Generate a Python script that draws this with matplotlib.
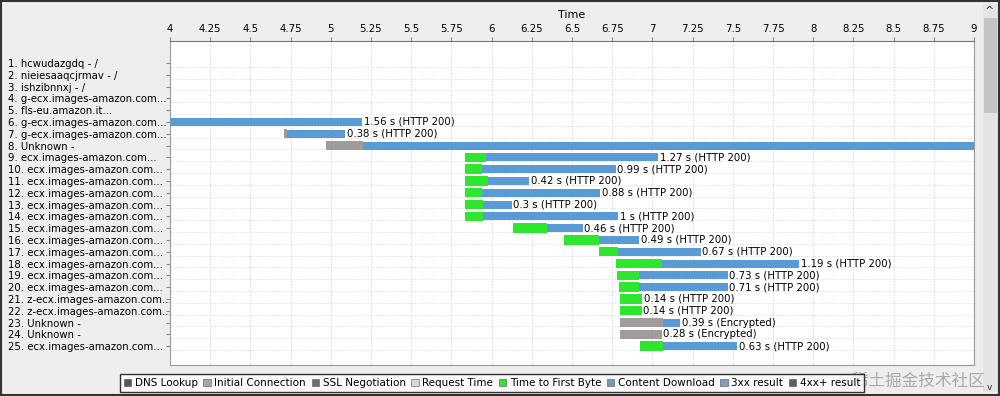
import numpy as np
import matplotlib
matplotlib.use("Agg")
import matplotlib.pyplot as plt
from matplotlib.patches import Patch, Rectangle

plt.rcParams['font.family'] = ['DejaVu Sans', 'Noto Sans CJK SC']

# ---------------- data ----------------
row_labels = [
    "1. hcwudazgdq - /", "2. nieiesaaqcjrmav - /", "3. ishzibnnxj - /",
    "4. g-ecx.images-amazon.com...", "5. fls-eu.amazon.it...",
    "6. g-ecx.images-amazon.com...", "7. g-ecx.images-amazon.com...",
    "8. Unknown -", "9. ecx.images-amazon.com...",
    "10. ecx.images-amazon.com...", "11. ecx.images-amazon.com...",
    "12. ecx.images-amazon.com...", "13. ecx.images-amazon.com...",
    "14. ecx.images-amazon.com...", "15. ecx.images-amazon.com...",
    "16. ecx.images-amazon.com...", "17. ecx.images-amazon.com...",
    "18. ecx.images-amazon.com...", "19. ecx.images-amazon.com...",
    "20. ecx.images-amazon.com...", "21. z-ecx.images-amazon.com...",
    "22. z-ecx.images-amazon.com...", "23. Unknown -", "24. Unknown -",
    "25. ecx.images-amazon.com...",
]
nan = np.nan
# initial connection (grey)
conn_start = [nan, nan, nan, nan, nan, nan, 4.71, 4.97, nan, nan, nan, nan, nan,
              nan, nan, nan, nan, nan, nan, nan, nan, nan, 6.798, 6.798, nan]
conn_end = [nan, nan, nan, nan, nan, nan, 4.73, 5.20, nan, nan, nan, nan, nan,
            nan, nan, nan, nan, nan, nan, nan, nan, nan, 7.068, 7.058, nan]
# time to first byte (green)
ttfb_start = [nan, nan, nan, nan, nan, nan, nan, nan, 5.834, 5.834, 5.834, 5.834,
              5.834, 5.834, 6.131, 6.45, 6.668, 6.773, 6.782, 6.794, 6.798,
              6.798, nan, nan, 6.923]
ttfb_end = [nan, nan, nan, nan, nan, nan, nan, nan, 5.965, 5.938, 5.975, 5.941,
            5.948, 5.948, 6.342, 6.668, 6.788, 7.062, 6.918, 6.918, 6.937,
            6.933, nan, nan, 7.068]
# content download (blue)
dl_start = [nan, nan, nan, nan, nan, 3.64, 4.73, 5.20, 5.965, 5.938, 5.975, 5.941,
            5.948, 5.948, 6.342, 6.668, 6.788, 7.062, 6.918, 6.918, nan, nan,
            7.068, nan, 7.068]
dl_end = [nan, nan, nan, nan, nan, 5.197, 5.088, 9.40, 7.037, 6.772, 6.234, 6.674,
          6.124, 6.788, 6.566, 6.917, 7.30, 7.912, 7.469, 7.469, nan, nan,
          7.172, nan, 7.528]
bar_texts = ["", "", "", "", "", "1.56 s (HTTP 200)", "0.38 s (HTTP 200)", "",
             "1.27 s (HTTP 200)", "0.99 s (HTTP 200)", "0.42 s (HTTP 200)",
             "0.88 s (HTTP 200)", "0.3 s (HTTP 200)", "1 s (HTTP 200)",
             "0.46 s (HTTP 200)", "0.49 s (HTTP 200)", "0.67 s (HTTP 200)",
             "1.19 s (HTTP 200)", "0.73 s (HTTP 200)", "0.71 s (HTTP 200)",
             "0.14 s (HTTP 200)", "0.14 s (HTTP 200)", "0.39 s (Encrypted)",
             "0.28 s (Encrypted)", "0.63 s (HTTP 200)"]
x_ticks = [4, 4.25, 4.5, 4.75, 5, 5.25, 5.5, 5.75, 6, 6.25, 6.5, 6.75, 7,
           7.25, 7.5, 7.75, 8, 8.25, 8.5, 8.75, 9]
legend_names = ["DNS Lookup", "Initial Connection", "SSL Negotiation",
                "Request Time", "Time to First Byte", "Content Download",
                "3xx result", "4xx+ result"]

# ---------------- styles ----------------
C_BLUE = "#5b9bd5"
C_GREEN = "#2ee62e"
C_GRAY = "#a19c9c"
legend_colors = ["#4c5a68", "#a5a5a5", "#6e6e6e", "#d6d6d6", C_GREEN,
                 "#7896b8", "#7e9dc2", "#5e5e5e"]
FS = 7.3

fig = plt.figure(figsize=(10, 3.96), dpi=100, facecolor="#eeeeee")
ax = fig.add_axes([0.170, 0.0783, 0.804, 0.8182])
ax.set_facecolor("white")

rows = np.arange(1, len(row_labels) + 1)

def draw(starts, ends, color, h, z):
    s = np.array(starts, float)
    e = np.array(ends, float)
    m = ~np.isnan(s)
    ax.barh(rows[m], e[m] - s[m], left=s[m], height=h, color=color,
            edgecolor="none", zorder=z)

draw(dl_start, dl_end, C_BLUE, 0.68, 3)
draw(conn_start, conn_end, C_GRAY, 0.72, 4)
draw(ttfb_start, ttfb_end, C_GREEN, 0.8, 5)

ends_all = np.nanmax(np.vstack([np.array(conn_end, float),
                                np.array(ttfb_end, float),
                                np.array(dl_end, float)]), axis=0)
for r, e, t in zip(rows, ends_all, bar_texts):
    if t:
        ax.text(e + 0.01, r, t, fontsize=FS, va="center", ha="left",
                color="black", zorder=6)

ax.set_xlim(4, 9)
ax.set_ylim(26.6, -0.86)
ax.xaxis.tick_top()
ax.xaxis.set_label_position("top")
ax.set_xticks(x_ticks)
ax.set_xticklabels([("%g" % v) for v in x_ticks], fontsize=FS)
ax.set_xlabel("Time", fontsize=8, labelpad=4)
ax.tick_params(axis="x", length=3, pad=2, color="#888888")

ax.set_yticks(rows)
ax.set_yticklabels(row_labels, fontsize=FS)
ax.tick_params(axis="y", length=3, color="#888888", pad=113.5)
for lab in ax.get_yticklabels():
    lab.set_horizontalalignment("left")

ax.set_yticks(rows + 0.33, minor=True)
ax.tick_params(axis="y", which="minor", length=0)
ax.grid(axis="x", which="major", color="#d5d5d5", linestyle=(0, (1, 1.5)), lw=0.8, zorder=0)
ax.grid(axis="y", which="minor", color="#dcdcdc", linestyle=(0, (1, 1.5)), lw=0.8, zorder=0)
ax.set_axisbelow(True)
for sp in ax.spines.values():
    sp.set_color("#9a9a9a")
    sp.set_linewidth(0.8)
ax.spines["top"].set_color("#777777")

handles = [Patch(facecolor=c, edgecolor="#555555", linewidth=0.4) for c in legend_colors]
leg = fig.legend(handles, legend_names, loc="center", bbox_to_anchor=(0.492, 0.033),
                 ncol=8, fontsize=7.5, frameon=True, fancybox=False,
                 handlelength=0.7, handleheight=0.7, handletextpad=0.35,
                 columnspacing=0.55, borderpad=0.35)
leg.get_frame().set_edgecolor("black")
leg.get_frame().set_linewidth(1.0)
leg.get_frame().set_facecolor("white")

# scrollbar (decoration)
fig.patches.append(Rectangle((0.983, 0.01), 0.015, 0.98, transform=fig.transFigure,
                             facecolor="#e4e4e4", edgecolor="none"))
fig.patches.append(Rectangle((0.984, 1 - 113 / 396), 0.013, (113 - 18) / 396,
                             transform=fig.transFigure, facecolor="#c4c4c4",
                             edgecolor="none"))
fig.text(0.9895, 1 - 11 / 396, "^", fontsize=8, ha="center", va="center", color="#333333")
fig.text(0.9895, 1 - 387 / 396, "v", fontsize=6.5, ha="center", va="center", color="#333333")

# watermark
fig.text(0.836, 0.037, "@稀土掘金技术社区", fontsize=12, ha="left", va="center",
         color="#9a9a9a", alpha=0.8, family=["Noto Sans CJK SC", "DejaVu Sans"])

# outer border
fig.patches.append(Rectangle((0.001, 0.002), 0.998, 0.996, transform=fig.transFigure,
                             facecolor="none", edgecolor="#333333", lw=1.5))

fig.savefig("out.png", dpi=100, facecolor=fig.get_facecolor())
